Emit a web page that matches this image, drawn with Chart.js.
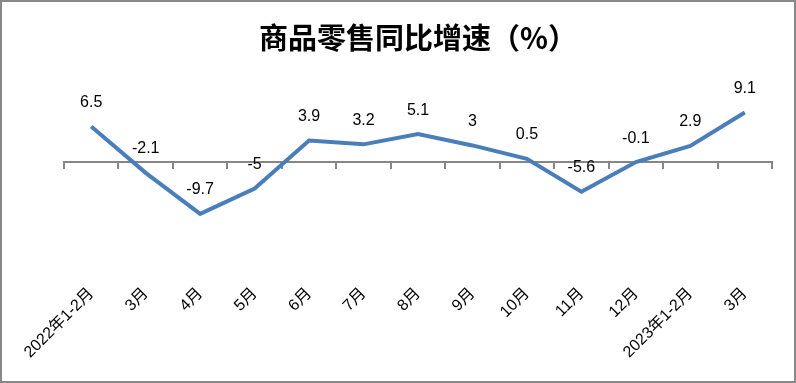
<!DOCTYPE html>
<html><head><meta charset="utf-8">
<script src="https://cdn.jsdelivr.net/npm/chart.js@4/dist/chart.umd.min.js"></script>
<style>
html,body{margin:0;padding:0;background:#fff;}
#wrap{position:absolute;left:0;top:0;width:792px;height:379px;border:2px solid #888;}
canvas{display:block;}
</style></head>
<body><div id="wrap"><canvas id="c" width="792" height="379"></canvas></div>
<script>
const categories = ['2022年1-2月','3月','4月','5月','6月','7月','8月','9月','10月','11月','12月','2023年1-2月','3月'];
const growth = [6.5,-2.1,-9.7,-5,3.9,3.2,5.1,3,0.5,-5.6,-0.1,2.9,9.1];
const titleText = '商品零售同比增速（%）';

const labelPlugin = {
  id:'pointLabels',
  afterDatasetsDraw(chart){
    const ctx = chart.ctx;
    const meta = chart.getDatasetMeta(0);
    ctx.save();
    ctx.font = '16px "Liberation Sans", "Noto Sans CJK SC", sans-serif';
    ctx.fillStyle = '#000';
    ctx.textAlign = 'center';
    ctx.textBaseline = 'middle';
    meta.data.forEach((pt,i)=>{
      ctx.fillText(String(growth[i]), pt.x, pt.y - 24);
    });
    ctx.restore();
  }
};

new Chart(document.getElementById('c'), {
  type:'line',
  data:{labels:categories, datasets:[{data:growth, borderColor:'#4a7ebb', borderWidth:4, pointRadius:0, tension:0, xAxisID:'x', yAxisID:'y', clip:false}]},
  options:{
    responsive:false, animation:false,
    layout:{padding:{left:62, right:22, top:0, bottom:12}},
    plugins:{
      legend:{display:false}, tooltip:{enabled:false},
      title:{display:true, text:titleText, color:'#000', font:{family:'"Noto Sans CJK SC", sans-serif', size:29, weight:'bold'}, padding:{top:19, bottom:25}}
    },
    scales:{
      y:{display:false, min:-20, max:15},
      x:{offset:true, grid:{display:false}, border:{display:false},
         ticks:{maxRotation:45, minRotation:45, color:'#000', padding:7, font:{family:'"Liberation Sans", "Noto Sans CJK SC", sans-serif', size:16}}},
      x2:{type:'category', labels:categories, offset:true, position:{y:0},
         ticks:{display:false},
         grid:{drawOnChartArea:false, drawTicks:true, tickLength:6, color:'#868686', lineWidth:2, offset:true},
         border:{display:true, color:'#868686', width:2}}
    }
  },
  plugins:[labelPlugin]
});
</script></body></html>
